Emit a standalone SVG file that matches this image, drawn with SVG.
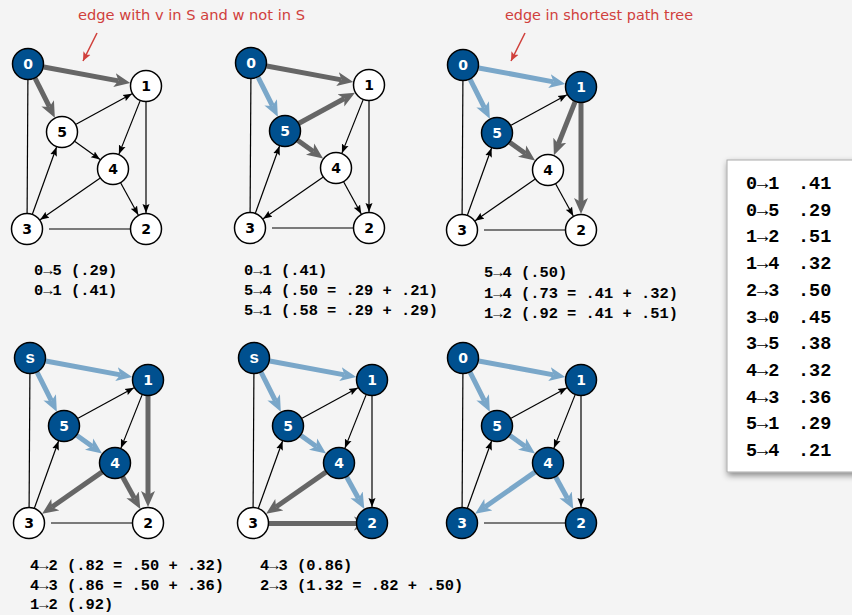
<svg xmlns="http://www.w3.org/2000/svg" width="852" height="615" viewBox="0 0 852 615">
<style>
.thin{stroke:#000;stroke-width:1.2;fill:none;marker-end:url(#ah)}
.plain{stroke:#000;stroke-width:1.2;fill:none}
.gray{stroke:#666;stroke-width:5;fill:none;marker-end:url(#ahg)}
.blue{stroke:#7aa7c9;stroke-width:5;fill:none;marker-end:url(#ahb)}
.nw circle{fill:#fff;stroke:#000;stroke-width:1.5}
.nb circle{fill:#00508f;stroke:#000;stroke-width:1.5}
.node text{font-family:"DejaVu Sans",sans-serif;font-weight:bold;font-size:14px;text-anchor:middle}
.nw text{fill:#000}
.nb text{fill:#fff}
.node text.s{font-family:"Liberation Mono",monospace;font-size:17px}
.code{font-family:"Liberation Mono","DejaVu Sans Mono",monospace;font-weight:bold;font-size:15.4px;fill:#000}
.tab{font-family:"Liberation Mono","DejaVu Sans Mono",monospace;font-weight:bold;font-size:18.5px;fill:#000}
.note{font-family:"DejaVu Sans",sans-serif;font-size:14px;fill:#d0403c}
</style>
<defs>
<marker id="ah" markerUnits="userSpaceOnUse" viewBox="0 -4 10 8" markerWidth="10" markerHeight="8" refX="9" refY="0" orient="auto"><path d="M0,-3.5 L9,0 L0,3.5 L1.5,0 z" fill="#000"/></marker>
<marker id="ahg" markerUnits="userSpaceOnUse" viewBox="0 -8 17 16" markerWidth="17" markerHeight="16" refX="4" refY="0" orient="auto"><path d="M0,-7 L16,0 L0,7 L4,0 z" fill="#666"/></marker>
<marker id="ahb" markerUnits="userSpaceOnUse" viewBox="0 -8 17 16" markerWidth="17" markerHeight="16" refX="4" refY="0" orient="auto"><path d="M0,-7 L16,0 L0,7 L4,0 z" fill="#7aa7c9"/></marker>
<marker id="ahr" markerUnits="userSpaceOnUse" viewBox="0 -5 10 10" markerWidth="10" markerHeight="10" refX="9" refY="0" orient="auto"><path d="M0,-4 L9,0 L0,4 L2,0 z" fill="#d0403c"/></marker>
<filter id="sh" x="-20%" y="-10%" width="140%" height="130%"><feDropShadow dx="1" dy="3" stdDeviation="3" flood-color="#000" flood-opacity="0.45"/></filter>
</defs>
<rect x="0" y="0" width="852" height="615" fill="#f4f4f4"/>

<!-- annotations -->
<g id="annotations">
<text class="note" x="78" y="20" textLength="227" lengthAdjust="spacingAndGlyphs">edge with v in S and w not in S</text>
<line x1="97" y1="33" x2="83" y2="61" stroke="#d0403c" stroke-width="1.5" marker-end="url(#ahr)"/>
<text class="note" x="505" y="20" textLength="188" lengthAdjust="spacingAndGlyphs">edge in shortest path tree</text>
<line x1="525" y1="33" x2="511" y2="61" stroke="#d0403c" stroke-width="1.5" marker-end="url(#ahr)"/>
</g>

<!-- Graph 1 -->
<g id="graph1" transform="translate(28,64)">
<g id="g1-edges">
<line class="plain" x1="-0.9" y1="149" x2="-0.1" y2="16"/>
<line class="plain" x1="21" y1="165" x2="102" y2="165"/>
<line class="thin" x1="48.03" y1="60.31" x2="103.97" y2="29.69"/>
<line class="thin" x1="46.95" y1="77.4" x2="72.05" y2="95.6"/>
<line class="thin" x1="112.09" y1="36.87" x2="90.91" y2="90.13"/>
<line class="thin" x1="118" y1="38" x2="118" y2="149"/>
<line class="thin" x1="92.71" y1="119.02" x2="110.29" y2="150.98"/>
<line class="thin" x1="71.88" y1="114.15" x2="12.12" y2="155.85"/>
<line class="thin" x1="4.43" y1="149.95" x2="28.57" y2="83.05"/>
<line class="gray" x1="15.73" y1="2.93" x2="90.47" y2="16.87"/>
<line class="gray" x1="7.16" y1="14.31" x2="21.47" y2="42.96"/>
</g>
<g id="g1-n0" class="node nb"><circle cx="0" cy="0" r="15.5"/><text x="0" y="5">0</text></g>
<g id="g1-n1" class="node nw"><circle cx="118" cy="22" r="15.5"/><text x="118" y="27">1</text></g>
<g id="g1-n5" class="node nw"><circle cx="34" cy="68" r="15.5"/><text x="34" y="73">5</text></g>
<g id="g1-n4" class="node nw"><circle cx="85" cy="105" r="15.5"/><text x="85" y="110">4</text></g>
<g id="g1-n3" class="node nw"><circle cx="-1" cy="165" r="15.5"/><text x="-1" y="170">3</text></g>
<g id="g1-n2" class="node nw"><circle cx="118" cy="165" r="15.5"/><text x="118" y="170">2</text></g>
</g>

<!-- Graph 2 -->
<g id="graph2" transform="translate(251,63)">
<g id="g2-edges">
<line class="plain" x1="-0.9" y1="149" x2="-0.1" y2="16"/>
<line class="plain" x1="21" y1="165" x2="102" y2="165"/>
<line class="thin" x1="112.09" y1="36.87" x2="90.91" y2="90.13"/>
<line class="thin" x1="118" y1="38" x2="118" y2="149"/>
<line class="thin" x1="92.71" y1="119.02" x2="110.29" y2="150.98"/>
<line class="thin" x1="71.88" y1="114.15" x2="12.12" y2="155.85"/>
<line class="thin" x1="4.43" y1="149.95" x2="28.57" y2="83.05"/>
<line class="gray" x1="15.73" y1="2.93" x2="90.47" y2="16.87"/>
<line class="blue" x1="7.16" y1="14.31" x2="21.47" y2="42.96"/>
<line class="gray" x1="48.03" y1="60.31" x2="93.44" y2="35.45"/>
<line class="gray" x1="46.95" y1="77.4" x2="62.34" y2="88.55"/>
</g>
<g id="g2-n0" class="node nb"><circle cx="0" cy="0" r="15.5"/><text x="0" y="5">0</text></g>
<g id="g2-n1" class="node nw"><circle cx="118" cy="22" r="15.5"/><text x="118" y="27">1</text></g>
<g id="g2-n5" class="node nb"><circle cx="34" cy="68" r="15.5"/><text x="34" y="73">5</text></g>
<g id="g2-n4" class="node nw"><circle cx="85" cy="105" r="15.5"/><text x="85" y="110">4</text></g>
<g id="g2-n3" class="node nw"><circle cx="-1" cy="165" r="15.5"/><text x="-1" y="170">3</text></g>
<g id="g2-n2" class="node nw"><circle cx="118" cy="165" r="15.5"/><text x="118" y="170">2</text></g>
</g>

<!-- Graph 3 -->
<g id="graph3" transform="translate(463,65)">
<g id="g3-edges">
<line class="plain" x1="-0.9" y1="149" x2="-0.1" y2="16"/>
<line class="plain" x1="21" y1="165" x2="102" y2="165"/>
<line class="thin" x1="48.03" y1="60.31" x2="103.97" y2="29.69"/>
<line class="thin" x1="92.71" y1="119.02" x2="110.29" y2="150.98"/>
<line class="thin" x1="71.88" y1="114.15" x2="12.12" y2="155.85"/>
<line class="thin" x1="4.43" y1="149.95" x2="28.57" y2="83.05"/>
<line class="blue" x1="15.73" y1="2.93" x2="90.47" y2="16.87"/>
<line class="blue" x1="7.16" y1="14.31" x2="21.47" y2="42.96"/>
<line class="gray" x1="46.95" y1="77.4" x2="62.34" y2="88.55"/>
<line class="gray" x1="112.09" y1="36.87" x2="95.34" y2="78.98"/>
<line class="gray" x1="118" y1="38" x2="118" y2="137"/>
</g>
<g id="g3-n0" class="node nb"><circle cx="0" cy="0" r="15.5"/><text x="0" y="5">0</text></g>
<g id="g3-n1" class="node nb"><circle cx="118" cy="22" r="15.5"/><text x="118" y="27">1</text></g>
<g id="g3-n5" class="node nb"><circle cx="34" cy="68" r="15.5"/><text x="34" y="73">5</text></g>
<g id="g3-n4" class="node nw"><circle cx="85" cy="105" r="15.5"/><text x="85" y="110">4</text></g>
<g id="g3-n3" class="node nw"><circle cx="-1" cy="165" r="15.5"/><text x="-1" y="170">3</text></g>
<g id="g3-n2" class="node nw"><circle cx="118" cy="165" r="15.5"/><text x="118" y="170">2</text></g>
</g>

<!-- Graph 4 -->
<g id="graph4" transform="translate(30,358)">
<g id="g4-edges">
<line class="plain" x1="-0.9" y1="149" x2="-0.1" y2="16"/>
<line class="plain" x1="21" y1="165" x2="102" y2="165"/>
<line class="thin" x1="48.03" y1="60.31" x2="103.97" y2="29.69"/>
<line class="thin" x1="112.09" y1="36.87" x2="90.91" y2="90.13"/>
<line class="thin" x1="4.43" y1="149.95" x2="28.57" y2="83.05"/>
<line class="blue" x1="15.73" y1="2.93" x2="90.47" y2="16.87"/>
<line class="blue" x1="7.16" y1="14.31" x2="21.47" y2="42.96"/>
<line class="blue" x1="46.95" y1="77.4" x2="62.34" y2="88.55"/>
<line class="gray" x1="118" y1="38" x2="118" y2="137"/>
<line class="gray" x1="92.71" y1="119.02" x2="104.51" y2="140.47"/>
<line class="gray" x1="71.88" y1="114.15" x2="21.96" y2="148.98"/>
</g>
<g id="g4-n0" class="node nb"><circle cx="0" cy="0" r="15.5"/><text class="s" x="0" y="5">s</text></g>
<g id="g4-n1" class="node nb"><circle cx="118" cy="22" r="15.5"/><text x="118" y="27">1</text></g>
<g id="g4-n5" class="node nb"><circle cx="34" cy="68" r="15.5"/><text x="34" y="73">5</text></g>
<g id="g4-n4" class="node nb"><circle cx="85" cy="105" r="15.5"/><text x="85" y="110">4</text></g>
<g id="g4-n3" class="node nw"><circle cx="-1" cy="165" r="15.5"/><text x="-1" y="170">3</text></g>
<g id="g4-n2" class="node nw"><circle cx="118" cy="165" r="15.5"/><text x="118" y="170">2</text></g>
</g>

<!-- Graph 5 -->
<g id="graph5" transform="translate(254,358)">
<g id="g5-edges">
<line class="plain" x1="-0.9" y1="149" x2="-0.1" y2="16"/>
<line class="thin" x1="48.03" y1="60.31" x2="103.97" y2="29.69"/>
<line class="thin" x1="112.09" y1="36.87" x2="90.91" y2="90.13"/>
<line class="thin" x1="118" y1="38" x2="118" y2="149"/>
<line class="thin" x1="4.43" y1="149.95" x2="28.57" y2="83.05"/>
<line class="blue" x1="15.73" y1="2.93" x2="90.47" y2="16.87"/>
<line class="blue" x1="7.16" y1="14.31" x2="21.47" y2="42.96"/>
<line class="blue" x1="46.95" y1="77.4" x2="62.34" y2="88.55"/>
<line class="blue" x1="92.71" y1="119.02" x2="104.51" y2="140.47"/>
<line class="gray" x1="71.88" y1="114.15" x2="21.96" y2="148.98"/>
<line class="gray" x1="15" y1="165.5" x2="104" y2="165.5"/>
</g>
<g id="g5-n0" class="node nb"><circle cx="0" cy="0" r="15.5"/><text class="s" x="0" y="5">s</text></g>
<g id="g5-n1" class="node nb"><circle cx="118" cy="22" r="15.5"/><text x="118" y="27">1</text></g>
<g id="g5-n5" class="node nb"><circle cx="34" cy="68" r="15.5"/><text x="34" y="73">5</text></g>
<g id="g5-n4" class="node nb"><circle cx="85" cy="105" r="15.5"/><text x="85" y="110">4</text></g>
<g id="g5-n3" class="node nw"><circle cx="-1" cy="165" r="15.5"/><text x="-1" y="170">3</text></g>
<g id="g5-n2" class="node nb"><circle cx="118" cy="165" r="15.5"/><text x="118" y="170">2</text></g>
</g>

<!-- Graph 6 -->
<g id="graph6" transform="translate(463,358)">
<g id="g6-edges">
<line class="plain" x1="-0.9" y1="149" x2="-0.1" y2="16"/>
<line class="plain" x1="21" y1="165" x2="102" y2="165"/>
<line class="thin" x1="48.03" y1="60.31" x2="103.97" y2="29.69"/>
<line class="thin" x1="112.09" y1="36.87" x2="90.91" y2="90.13"/>
<line class="thin" x1="118" y1="38" x2="118" y2="149"/>
<line class="thin" x1="4.43" y1="149.95" x2="28.57" y2="83.05"/>
<line class="blue" x1="15.73" y1="2.93" x2="90.47" y2="16.87"/>
<line class="blue" x1="7.16" y1="14.31" x2="21.47" y2="42.96"/>
<line class="blue" x1="46.95" y1="77.4" x2="62.34" y2="88.55"/>
<line class="blue" x1="92.71" y1="119.02" x2="104.51" y2="140.47"/>
<line class="blue" x1="71.88" y1="114.15" x2="21.96" y2="148.98"/>
</g>
<g id="g6-n0" class="node nb"><circle cx="0" cy="0" r="15.5"/><text x="0" y="5">0</text></g>
<g id="g6-n1" class="node nb"><circle cx="118" cy="22" r="15.5"/><text x="118" y="27">1</text></g>
<g id="g6-n5" class="node nb"><circle cx="34" cy="68" r="15.5"/><text x="34" y="73">5</text></g>
<g id="g6-n4" class="node nb"><circle cx="85" cy="105" r="15.5"/><text x="85" y="110">4</text></g>
<g id="g6-n3" class="node nb"><circle cx="-1" cy="165" r="15.5"/><text x="-1" y="170">3</text></g>
<g id="g6-n2" class="node nb"><circle cx="118" cy="165" r="15.5"/><text x="118" y="170">2</text></g>
</g>

<!-- text blocks -->
<g id="steps">
<text class="code" x="34" y="275">0→5 (.29)</text>
<text class="code" x="34" y="295">0→1 (.41)</text>
<text class="code" x="244" y="275">0→1 (.41)</text>
<text class="code" x="244" y="295">5→4 (.50 = .29 + .21)</text>
<text class="code" x="244" y="314.5">5→1 (.58 = .29 + .29)</text>
<text class="code" x="484" y="276.7">5→4 (.50)</text>
<text class="code" x="484" y="297.7">1→4 (.73 = .41 + .32)</text>
<text class="code" x="484" y="318.3">1→2 (.92 = .41 + .51)</text>
<text class="code" x="30" y="570">4→2 (.82 = .50 + .32)</text>
<text class="code" x="30" y="590">4→3 (.86 = .50 + .36)</text>
<text class="code" x="30" y="609">1→2 (.92)</text>
<text class="code" x="260" y="570">4→3 (0.86)</text>
<text class="code" x="260" y="590">2→3 (1.32 = .82 + .50)</text>
</g>

<!-- edge table -->
<g id="table">
<rect x="727" y="160" width="140" height="312" fill="#fff" stroke="#aaa" stroke-width="1" filter="url(#sh)"/>
<text class="tab" x="746" y="189">0→1</text><text class="tab" x="798" y="189">.41</text>
<text class="tab" x="746" y="215.7">0→5</text><text class="tab" x="798" y="215.7">.29</text>
<text class="tab" x="746" y="242.4">1→2</text><text class="tab" x="798" y="242.4">.51</text>
<text class="tab" x="746" y="269.1">1→4</text><text class="tab" x="798" y="269.1">.32</text>
<text class="tab" x="746" y="295.8">2→3</text><text class="tab" x="798" y="295.8">.50</text>
<text class="tab" x="746" y="322.5">3→0</text><text class="tab" x="798" y="322.5">.45</text>
<text class="tab" x="746" y="349.2">3→5</text><text class="tab" x="798" y="349.2">.38</text>
<text class="tab" x="746" y="375.9">4→2</text><text class="tab" x="798" y="375.9">.32</text>
<text class="tab" x="746" y="402.6">4→3</text><text class="tab" x="798" y="402.6">.36</text>
<text class="tab" x="746" y="429.3">5→1</text><text class="tab" x="798" y="429.3">.29</text>
<text class="tab" x="746" y="456">5→4</text><text class="tab" x="798" y="456">.21</text>
</g>
</svg>
